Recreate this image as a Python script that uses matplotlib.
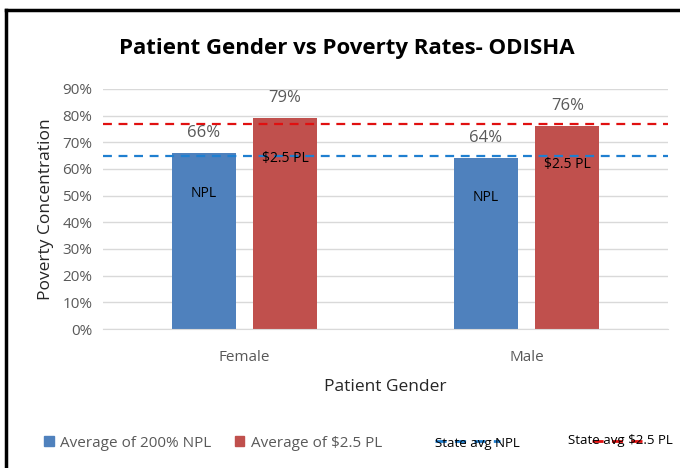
import matplotlib
matplotlib.use("Agg")
from matplotlib import pyplot as plt
from matplotlib.lines import Line2D
from matplotlib.patches import Patch
import numpy as np

plt.rcParams['font.family'] = ['Open Sans', 'DejaVu Sans']

# Data
genders = ["Female", "Male"]
npl_200 = [0.66, 0.64]        # Average of 200% NPL
pl_25 = [0.79, 0.76]          # Average of $2.5 PL
state_avg_npl = 0.65
state_avg_pl = 0.77
yticks = [0.0, 0.1, 0.2, 0.3, 0.4, 0.5, 0.6, 0.7, 0.8, 0.9]

blue = '#4f81bd'
red = '#c0504d'
gray = '#595959'

fig = plt.figure(figsize=(6.8, 4.68), dpi=100)
ax = fig.add_axes([0.152, 0.297, 0.830, 0.513])

x = np.arange(len(genders))
w = 0.227
off = 0.144
ax.bar(x - off, npl_200, w, color=blue, zorder=2)
ax.bar(x + off, pl_25, w, color=red, zorder=2)

ax.axhline(state_avg_npl, color='#1f7fd0', linestyle=(0, (4, 3)), linewidth=1.6, zorder=3)
ax.axhline(state_avg_pl, color='#e01010', linestyle=(0, (4, 3)), linewidth=1.6, zorder=3)

# value labels + inner labels
for xi, v in zip(x, npl_200):
    ax.text(xi - off, v + 0.075, f"{v*100:.0f}%", ha='center', va='center', fontsize=12, color=gray)
    ax.text(xi - off, v * 0.77, "NPL", ha='center', va='center', fontsize=10, color='black')
for xi, v in zip(x, pl_25):
    ax.text(xi + off, v + 0.075, f"{v*100:.0f}%", ha='center', va='center', fontsize=12, color=gray)
    ax.text(xi + off, v * 0.81, "$2.5 PL", ha='center', va='center', fontsize=10, color='black')

ax.set_xlim(-0.5, 1.5)
ax.set_ylim(0, 0.9)
ax.set_yticks(yticks)
ax.set_yticklabels([f"{t*100:.0f}%" for t in yticks], fontsize=11, color=gray)
ax.set_xticks(x)
ax.set_xticklabels(genders, fontsize=11, color=gray)
ax.tick_params(axis='y', length=0, pad=8)
ax.tick_params(axis='x', length=0, pad=15)
ax.grid(True, axis='y', color='#d9d9d9', linewidth=1, zorder=0)
ax.set_axisbelow(True)
for s in ['top', 'right', 'left']:
    ax.spines[s].set_visible(False)
ax.spines['bottom'].set_color('#d9d9d9')

ax.set_ylabel("Poverty Concentration", fontsize=12.5, color='#262626', labelpad=6)
ax.set_xlabel("Patient Gender", fontsize=12.5, color='#262626', labelpad=10)

fig.text(0.51, 0.897, "Patient Gender vs Poverty Rates- ODISHA", ha='center', va='center',
         fontsize=16, fontweight='bold', color='black')

# legend (bars)
handles = [Patch(color=blue), Patch(color=red)]
leg = fig.legend(handles, ["Average of 200% NPL", "Average of $2.5 PL"], loc='center left',
                 bbox_to_anchor=(0.045, 0.053), ncol=2, frameon=False, fontsize=11,
                 handlelength=0.6, handleheight=0.6, handletextpad=0.4, columnspacing=1.6)
for t in leg.get_texts():
    t.set_color(gray)

# legend (state average lines, line drawn across the text as in original)
fig.text(0.640, 0.053, "State avg NPL", ha='left', va='center', fontsize=9.5, color='black')
fig.add_artist(Line2D([0.640, 0.735], [0.058, 0.058], color='#1f7fd0', linestyle=(0, (4, 3)), linewidth=2))
fig.text(0.835, 0.058, "State avg $2.5 PL", ha='left', va='center', fontsize=9.5, color='black')
fig.add_artist(Line2D([0.870, 0.945], [0.058, 0.058], color='#e01010', linestyle=(0, (4, 3)), linewidth=2))

# outer frame (top and left edges visible)
fig.add_artist(Line2D([0.009, 1.0], [0.979, 0.979], color='black', linewidth=2.5))
fig.add_artist(Line2D([0.009, 0.009], [0.0, 0.979], color='black', linewidth=2.5))

fig.savefig("out.png", dpi=100)
